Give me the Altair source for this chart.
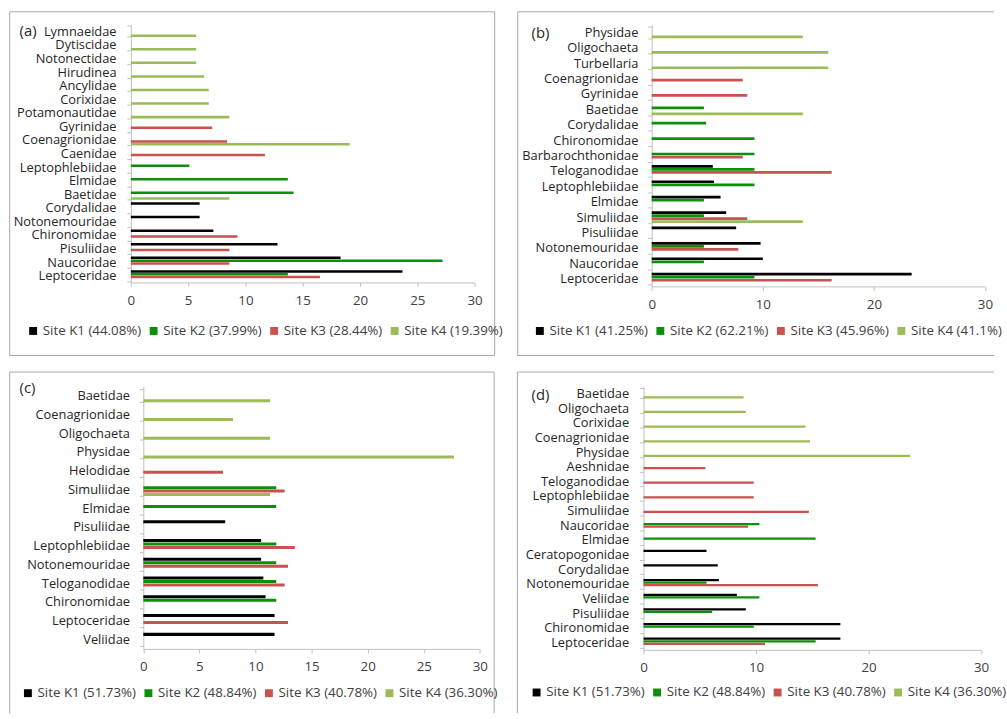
import altair as alt
import pandas as pd

FONT = "Open Sans"
TEXT_DARK = "#262626"
TEXT_GREY = "#404040"
AXIS_GREY = "#bfbfbf"
FRAME_GREY = "#a6a6a6"
SITE_COLORS = ["#000000", "#0c8f0c", "#c9524f", "#9bbb59"]

# ---------------- Panel (a) ----------------
a_families = ["Lymnaeidae", "Dytiscidae", "Notonectidae", "Hirudinea", "Ancylidae",
              "Corixidae", "Potamonautidae", "Gyrinidae", "Coenagrionidae", "Caenidae",
              "Leptophlebiidae", "Elmidae", "Baetidae", "Corydalidae", "Notonemouridae",
              "Chironomidae", "Pisuliidae", "Naucoridae", "Leptoceridae"]
a_k1 = [None, None, None, None, None, None, None, None, None, None,
        None, None, None, 6.0, 6.0, 7.2, 12.8, 18.3, 23.7]
a_k2 = [None, None, None, None, None, None, None, None, None, None,
        5.1, 13.7, 14.2, None, None, None, None, 27.2, 13.7]
a_k3 = [None, None, None, None, None, None, None, 7.1, 8.4, 11.7,
        None, None, None, None, None, 9.3, 8.6, 8.6, 16.5]
a_k4 = [5.7, 5.7, 5.7, 6.4, 6.8, 6.8, 8.6, None, 19.1, None,
        None, None, 8.6, None, None, None, None, None, None]
a_sites = ["Site K1 (44.08%)", "Site K2 (37.99%)", "Site K3 (28.44%)", "Site K4 (19.39%)"]

# ---------------- Panel (b) ----------------
b_families = ["Physidae", "Oligochaeta", "Turbellaria", "Coenagrionidae", "Gyrinidae",
              "Baetidae", "Corydalidae", "Chironomidae", "Barbarochthonidae", "Teloganodidae",
              "Leptophlebiidae", "Elmidae", "Simuliidae", "Pisuliidae", "Notonemouridae",
              "Naucoridae", "Leptoceridae"]
b_k1 = [None, None, None, None, None, None, None, None, None, 5.5,
        5.6, 6.2, 6.7, 7.6, 9.8, 10.0, 23.4]
b_k2 = [None, None, None, None, None, 4.7, 4.9, 9.25, 9.25, 9.25,
        9.25, 4.7, 4.7, None, 4.7, 4.7, 9.25]
b_k3 = [None, None, None, 8.2, 8.6, None, None, None, 8.2, 16.2,
        None, None, 8.6, None, 7.8, None, 16.2]
b_k4 = [13.6, 15.9, 15.9, None, None, 13.6, None, None, None, None,
        None, None, 13.6, None, None, None, None]
b_sites = ["Site K1 (41.25%)", "Site K2 (62.21%)", "Site K3 (45.96%)", "Site K4 (41.1%)"]

# ---------------- Panel (c) ----------------
c_families = ["Baetidae", "Coenagrionidae", "Oligochaeta", "Physidae", "Helodidae",
              "Simuliidae", "Elmidae", "Pisuliidae", "Leptophlebiidae", "Notonemouridae",
              "Teloganodidae", "Chironomidae", "Leptoceridae", "Veliidae"]
c_k1 = [None, None, None, None, None, None, None, 7.3, 10.5, 10.5,
        10.7, 10.9, 11.7, 11.7]
c_k2 = [None, None, None, None, None, 11.85, 11.85, None, 11.85, 11.85,
        11.85, 11.85, None, None]
c_k3 = [None, None, None, None, 7.1, 12.6, None, None, 13.5, 12.9,
        12.6, None, 12.9, None]
c_k4 = [11.3, 8.0, 11.3, 27.7, None, 11.3, None, None, None, None,
        None, None, None, None]
c_sites = ["Site K1 (51.73%)", "Site K2 (48.84%)", "Site K3 (40.78%)", "Site K4 (36.30%)"]

# ---------------- Panel (d) ----------------
d_families = ["Baetidae", "Oligochaeta", "Corixidae", "Coenagrionidae", "Physidae",
              "Aeshnidae", "Teloganodidae", "Leptophlebiidae", "Simuliidae", "Naucoridae",
              "Elmidae", "Ceratopogonidae", "Corydalidae", "Notonemouridae", "Veliidae",
              "Pisuliidae", "Chironomidae", "Leptoceridae"]
d_k1 = [None, None, None, None, None, None, None, None, None, None,
        None, 5.6, 6.6, 6.7, 8.3, 9.1, 17.5, 17.5]
d_k2 = [None, None, None, None, None, None, None, None, None, 10.3,
        15.3, None, None, 5.6, 10.3, 6.1, 9.8, 15.3]
d_k3 = [None, None, None, None, None, 5.5, 9.8, 9.8, 14.7, 9.3,
        None, None, None, 15.5, None, None, None, 10.8]
d_k4 = [8.9, 9.1, 14.4, 14.8, 23.7, None, None, None, None, None,
        None, None, None, None, None, None, None, None]
d_sites = ["Site K1 (51.73%)", "Site K2 (48.84%)", "Site K3 (40.78%)", "Site K4 (36.30%)"]


def one_row():
    return alt.Data(values=[{}])


def hline(x1, x2, y):
    return alt.Chart(one_row()).mark_rule(color=FRAME_GREY, strokeWidth=1).encode(
        x=alt.value(x1), x2=alt.value(x2), y=alt.value(y))


def vline(x, y1, y2):
    return alt.Chart(one_row()).mark_rule(color=FRAME_GREY, strokeWidth=1).encode(
        x=alt.value(x), y=alt.value(y1), y2=alt.value(y2))


def panel(tag, families, series, sites, tick_step, x_range, height,
          frame_lines, tag_pos, legend_pos, pad_inner, label_pad):
    """One grouped horizontal bar panel; x_range gives the pixel span of 0..30."""
    rows = []
    for site, values in zip(sites, series):
        for fam, v in zip(families, values):
            if v is not None:
                rows.append({"family": fam, "site": site, "value": v})
    df = pd.DataFrame(rows)
    shift = x_range[0]

    bars = alt.Chart(df).mark_bar(strokeWidth=0).encode(
        x=alt.X("value:Q",
                scale=alt.Scale(domain=[0, 30], range=list(x_range), nice=False, zero=True),
                axis=alt.Axis(values=list(range(0, 31, tick_step)), title=None, grid=False,
                              domainColor=AXIS_GREY, tickColor=AXIS_GREY, tickSize=4,
                              labelFont=FONT, labelFontSize=13.5, labelColor=TEXT_GREY,
                              labelPadding=7, labelFlush=False, labelOverlap=False)),
        y=alt.Y("family:N", sort=families,
                scale=alt.Scale(domain=families, paddingInner=pad_inner,
                                paddingOuter=pad_inner / 2),
                axis=alt.Axis(title=None, tickBand="extent", domainColor=AXIS_GREY,
                              tickColor=AXIS_GREY, tickSize=4, labelFont=FONT,
                              labelFontSize=13, labelColor=TEXT_DARK,
                              labelPadding=label_pad, labelLimit=300, offset=-shift)),
        yOffset=alt.YOffset("site:N", sort=sites,
                            scale=alt.Scale(domain=sites, paddingInner=0.12, paddingOuter=0)),
        color=alt.Color("site:N",
                        scale=alt.Scale(domain=sites, range=SITE_COLORS),
                        legend=alt.Legend(title=None, orient="none", direction="horizontal",
                                          legendX=legend_pos[0], legendY=legend_pos[1],
                                          symbolType="square", symbolSize=64,
                                          symbolStrokeWidth=0, labelFont=FONT,
                                          labelFontSize=13.5, labelColor=TEXT_GREY,
                                          labelOffset=3, columnPadding=5, padding=0)),
    )

    tag_text = alt.Chart(one_row()).mark_text(
        align="left", baseline="middle", font=FONT, fontSize=15, color=TEXT_DARK
    ).encode(x=alt.value(tag_pos[0]), y=alt.value(tag_pos[1]), text=alt.value(tag))

    return alt.layer(bars, tag_text, *frame_lines).properties(
        width=x_range[1], height=height)


pa = panel("(a)", a_families, [a_k1, a_k2, a_k3, a_k4], a_sites, 5, (0, 348), 261,
           [hline(-122.7, 368.3, -13), hline(-122.7, 368.3, 335),
            vline(-122.7, -13, 335), vline(368.3, -13, 335)],
           (-112.7, 6.7), (-105.7, 303), 0.185, 11)

pb = panel("(b)", b_families, [b_k1, b_k2, b_k3, b_k4], b_sites, 10, (8.3, 345.7), 265,
           [hline(-127.3, 355, -13), hline(-127.3, 355, 335),
            vline(-127.3, -13, 335)],
           (-113.3, 8.3), (-111.7, 303), 0.23, 10)

pc = panel("(c)", c_families, [c_k1, c_k2, c_k3, c_k4], c_sites, 5, (12.6, 353.3), 266,
           [hline(-122.7, 367.8, -14.3), vline(-122.7, -14.3, 331),
            vline(367.8, -14.3, 331)],
           (-112.7, 2.3), (-111, 303.7), 0.29, 10)

pd_ = panel("(d)", d_families, [d_k1, d_k2, d_k3, d_k4], d_sites, 10, (0, 341.7), 267,
            [hline(-127.7, 355, -14.3), vline(-127.7, -14.3, 331)],
            (-113.3, 9), (-115, 303), 0.32, 11)

chart = (
    alt.concat(pa, pb, pc, pd_, columns=2, bounds="flush", align="all",
               spacing={"row": 99, "column": 165})
    .resolve_scale(x="independent", y="independent", color="independent",
                   yOffset="independent")
    .properties(padding={"left": 8.5, "top": 6.5, "right": 0, "bottom": 0},
                background="white")
    .configure_view(stroke=None)
)

chart.save("out.html", embed_options={"renderer": "svg", "actions": False})
